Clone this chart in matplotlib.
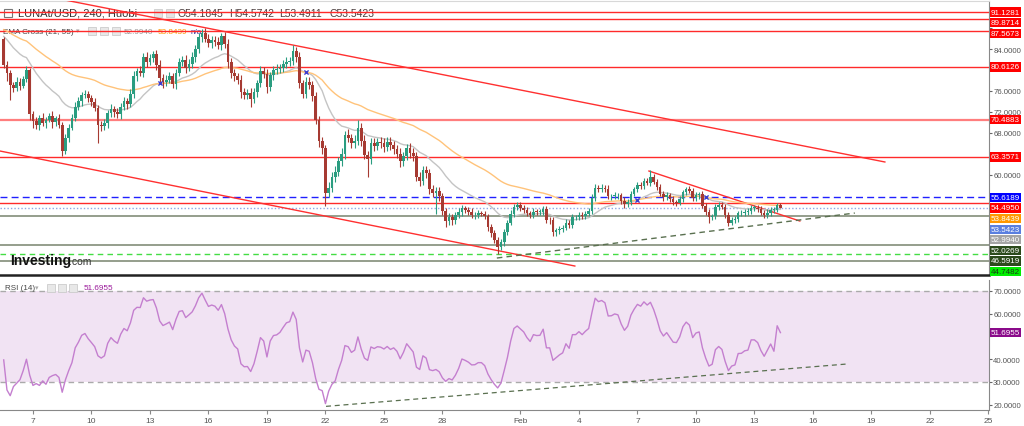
import matplotlib
matplotlib.use("Agg")
import matplotlib.pyplot as plt
import numpy as np

plt.rcParams['font.family'] = ['Liberation Sans', 'DejaVu Sans']

# ---- data (4h candles, LUNA/USD Huobi), day numbers counted from Jan 1 = 1 -------------------
first_day = 5.5                     # first candle: Jan 5, 12:00
open0 = 86.0
closes = [
    81.0, 79.5, 77.2, 76.5, 77.8, 77.0, 78.3, 80.0, 71.5, 70.2,
    69.5, 70.8, 69.8, 70.5, 71.2, 70.0, 70.8, 69.5, 64.5, 67.0,
    69.0, 70.8, 73.0, 74.0, 75.2, 75.5, 74.6, 73.8, 72.8, 69.5,
    69.2, 69.8, 71.8, 72.5, 72.0, 71.5, 73.0, 74.0, 73.5, 75.5,
    78.8, 79.8, 79.5, 82.5, 81.5, 82.3, 83.0, 81.0, 78.5, 77.8,
    78.2, 78.8, 77.3, 79.5, 81.5, 82.0, 80.5, 81.2, 82.5, 84.0,
    86.3, 87.2, 86.0, 85.2, 85.8, 85.4, 84.8, 86.5, 85.0, 81.5,
    79.5, 78.8, 78.2, 75.8, 75.3, 75.6, 74.5, 75.8, 77.5, 79.8,
    79.3, 76.8, 79.0, 80.0, 80.2, 80.5, 81.2, 81.6, 81.8, 83.6,
    82.5, 77.5, 75.5, 77.8, 77.2, 75.0, 70.5, 66.5, 65.0, 56.5,
    57.5, 59.5, 60.5, 62.5, 64.0, 67.5, 67.0, 66.0, 66.5, 69.0,
    66.5, 63.8, 63.0, 66.0, 65.5, 66.2, 66.0, 65.3, 66.3, 65.6,
    64.8, 64.0, 62.5, 63.5, 65.0, 64.2, 63.5, 59.5, 58.8, 60.8,
    60.2, 57.2, 56.5, 56.8, 55.8, 53.0, 51.0, 51.8, 51.2, 52.3,
    52.8, 53.5, 53.2, 52.8, 52.2, 52.3, 52.6, 52.5, 52.0, 50.0,
    48.8, 47.5, 46.2, 47.0, 49.0, 50.8, 52.5, 53.8, 54.2, 53.6,
    53.2, 52.6, 52.2, 52.9, 52.8, 52.8, 53.4, 51.3, 51.2, 49.0,
    49.3, 49.6, 49.8, 50.8, 50.3, 51.8, 51.8, 52.3, 52.0, 52.5,
    53.0, 55.5, 57.5, 57.2, 57.5, 57.3, 55.8, 55.8, 56.0, 56.0,
    55.0, 54.3, 54.8, 56.3, 57.2, 58.0, 57.8, 58.8, 58.4, 59.5,
    58.6, 57.6, 56.3, 55.6, 56.0, 55.3, 54.7, 54.6, 55.3, 56.6,
    57.2, 56.9, 55.5, 56.0, 56.2, 54.0, 52.8, 51.8, 52.0, 53.8,
    54.2, 53.8, 52.2, 50.8, 51.3, 51.4, 52.6, 52.6, 52.9, 53.0,
    53.6, 53.6, 53.4, 52.7, 52.2, 52.7, 53.2, 53.2, 54.1845, 53.5423,
]
wick_up = [
    0.4, 0.8, 0.6, 0.5, 0.9, 0.7, 0.6, 0.8, 0.5, 0.6,
    0.8, 0.6, 0.9, 0.5, 0.6, 0.9, 0.5, 0.7, 0.6, 0.8,
    0.6, 0.7, 0.8, 0.9, 0.6, 0.7, 0.5, 0.6, 0.9, 0.6,
    0.7, 0.9, 0.6, 1.0, 0.6, 0.8, 0.7, 0.9, 0.6, 0.8,
    1.0, 0.7, 0.9, 0.8, 1.0, 0.7, 0.6, 0.8, 0.9, 0.7,
    0.8, 0.9, 0.7, 0.8, 0.9, 0.7, 0.8, 0.9, 1.0, 0.9,
    0.9, 0.6, 0.8, 0.9, 0.7, 0.8, 0.9, 0.7, 0.8, 0.9,
    0.9, 0.8, 0.7, 0.9, 0.8, 0.7, 0.9, 0.8, 0.7, 0.9,
    0.8, 0.9, 0.7, 0.8, 0.9, 0.7, 0.8, 0.9, 0.7, 1.2,
    0.8, 0.9, 0.7, 0.9, 0.8, 0.7, 0.9, 0.8, 0.7, 0.6,
    1.0, 0.9, 1.2, 0.8, 1.0, 0.9, 1.2, 0.8, 1.0, 1.5,
    0.9, 1.0, 0.8, 0.9, 1.0, 0.8, 0.9, 1.0, 0.8, 0.9,
    0.8, 0.9, 1.0, 0.8, 0.9, 1.0, 0.8, 0.9, 1.0, 0.8,
    0.9, 0.8, 0.7, 0.9, 0.8, 0.7, 0.6, 0.8, 0.7, 0.6,
    0.7, 0.6, 0.5, 0.6, 0.7, 0.5, 0.6, 0.5, 0.6, 0.5,
    0.6, 0.5, 0.6, 0.7, 0.6, 0.5, 0.7, 0.6, 0.5, 0.6,
    0.5, 0.6, 0.5, 0.6, 0.5, 0.6, 0.5, 0.6, 0.5, 0.6,
    0.5, 0.6, 0.5, 0.6, 0.5, 0.6, 0.5, 0.6, 0.5, 0.6,
    0.6, 0.8, 0.7, 0.5, 0.6, 0.5, 0.6, 0.5, 0.6, 0.5,
    0.5, 0.6, 0.5, 0.6, 0.5, 0.6, 0.5, 0.6, 0.5, 1.3,
    0.6, 0.5, 0.6, 0.5, 0.6, 0.5, 0.6, 0.5, 0.6, 0.5,
    0.5, 0.6, 0.5, 0.6, 0.5, 0.6, 0.5, 0.6, 0.5, 0.6,
    0.5, 0.6, 0.5, 0.6, 0.5, 0.6, 0.5, 0.6, 0.5, 0.6,
    0.5, 0.6, 0.5, 0.6, 0.5, 0.6, 0.5, 0.6, 0.3, 0.39,
]
wick_dn = [
    0.6, 1.5, 3.0, 0.7, 0.5, 0.9, 0.4, 0.5, 1.0, 1.2,
    0.7, 0.9, 0.6, 0.8, 0.5, 1.0, 0.7, 0.6, 0.9, 0.5,
    0.8, 0.5, 0.6, 0.7, 0.9, 0.6, 0.8, 0.7, 0.6, 3.5,
    0.9, 0.6, 0.8, 0.7, 0.9, 0.6, 0.8, 0.7, 0.9, 0.6,
    0.8, 0.9, 0.7, 0.8, 0.9, 0.6, 0.8, 0.9, 0.7, 1.2,
    0.9, 0.7, 0.8, 0.9, 0.7, 0.8, 1.0, 0.7, 0.8, 0.9,
    0.8, 0.9, 0.7, 0.8, 0.9, 0.7, 0.8, 0.9, 0.7, 1.0,
    1.0, 0.8, 0.9, 1.1, 0.8, 0.9, 1.5, 0.8, 0.9, 0.8,
    0.9, 1.2, 0.8, 0.9, 0.7, 0.8, 0.9, 0.7, 0.8, 0.9,
    0.9, 1.0, 0.8, 0.9, 0.8, 1.0, 0.9, 1.2, 1.0, 2.5,
    0.8, 0.9, 1.0, 0.8, 0.9, 1.0, 0.8, 0.9, 1.0, 0.8,
    1.0, 0.9, 3.5, 0.9, 1.0, 0.8, 0.9, 1.0, 0.8, 0.9,
    0.9, 0.8, 1.0, 0.9, 0.8, 1.0, 0.9, 0.8, 1.0, 0.9,
    0.8, 0.9, 0.8, 4.0, 0.9, 0.8, 1.0, 0.7, 0.8, 0.7,
    0.6, 0.7, 0.5, 0.6, 0.5, 0.7, 0.6, 0.5, 0.6, 0.8,
    0.7, 0.6, 1.45, 0.6, 0.7, 0.6, 0.5, 0.7, 0.6, 0.5,
    0.6, 0.5, 0.6, 0.5, 0.6, 0.5, 0.6, 0.5, 0.6, 0.8,
    0.8, 0.6, 0.7, 0.5, 0.6, 0.5, 0.6, 0.5, 0.6, 0.5,
    0.5, 0.6, 0.5, 0.6, 0.5, 0.6, 0.5, 0.6, 0.5, 0.6,
    0.6, 0.8, 0.5, 0.6, 0.5, 0.6, 0.5, 0.6, 0.5, 0.6,
    0.5, 0.6, 0.5, 0.6, 0.5, 0.6, 0.5, 0.6, 0.5, 0.6,
    0.6, 0.5, 0.6, 0.5, 0.6, 0.5, 0.6, 1.0, 0.5, 0.6,
    0.6, 0.5, 0.6, 0.6, 0.5, 0.6, 0.5, 0.6, 0.5, 0.6,
    0.6, 0.5, 0.6, 0.5, 0.6, 0.5, 0.6, 0.5, 0.4, 0.05,
]
rsi = [
    39.7, 26.5, 24.0, 28.0, 29.5, 31.0, 35.0, 40.0, 33.0, 28.5,
    29.3, 28.5, 30.5, 29.0, 32.0, 32.8, 33.3, 32.0, 25.5, 31.0,
    35.0, 38.5, 45.0, 47.5, 50.5, 51.3, 49.0, 47.3, 45.5, 41.5,
    40.5, 41.5, 47.0, 49.5, 48.0, 47.0, 51.0, 53.5, 52.5, 56.0,
    61.5, 62.8, 62.7, 67.0, 65.5, 66.0, 66.2, 62.5, 56.8, 54.8,
    55.5, 56.3, 53.0, 57.5, 61.0, 61.3, 58.3, 59.5, 60.8, 63.5,
    67.0, 69.0, 66.0, 63.2, 63.8, 63.3, 61.5, 64.0, 60.0, 53.3,
    48.5, 45.8, 44.5, 38.0, 36.7, 36.8, 34.6, 38.0, 43.5, 49.5,
    48.0, 41.0, 48.0, 50.4, 50.7, 51.8, 54.0, 56.0, 56.5, 60.7,
    57.5, 45.0, 38.8, 44.0, 43.5, 38.5, 31.5, 26.8, 26.2, 20.5,
    26.0, 29.0, 30.5, 35.5, 39.5, 46.0, 45.5, 43.0, 44.0, 49.8,
    44.5, 40.5, 39.5, 45.4, 44.7, 45.5, 45.3, 44.5, 45.6, 44.3,
    45.0, 43.5, 40.2, 43.0, 46.8, 45.0, 43.2, 36.5, 35.5, 41.5,
    40.5, 35.4, 35.0, 35.5, 34.5, 31.8, 30.3, 31.5, 30.9, 33.0,
    36.0, 40.1, 39.5, 38.7, 37.5, 37.6, 38.5, 38.5, 37.2, 33.5,
    31.0, 29.0, 27.4, 29.5, 35.0, 40.8, 48.0, 53.5, 54.6, 53.3,
    52.0, 49.5, 47.8, 50.8, 50.4, 50.5, 53.2, 45.0, 45.0, 39.5,
    40.7, 41.9, 42.8, 46.8, 44.8, 50.8, 50.8, 52.1, 50.8, 52.3,
    53.5, 60.5, 66.8, 65.3, 65.8, 64.8, 59.0, 59.1, 59.9, 59.5,
    55.5, 52.7, 54.5, 59.4, 62.0, 64.1, 63.3, 65.2, 63.8, 65.0,
    61.8, 57.5, 52.5, 50.2, 51.7, 49.6, 47.5, 47.3, 49.8, 54.3,
    56.3, 55.0, 49.5, 51.5, 52.0, 45.0, 40.5, 37.0, 37.8, 44.2,
    45.6, 44.3, 39.0, 35.0, 37.0, 37.5, 42.5, 42.6, 43.7, 44.0,
    48.5, 48.5, 47.3, 43.8, 41.3, 44.0, 46.7, 43.5, 54.7, 51.6955,
]
ema21_seed, ema55_seed = 87.0, 88.0

# header readouts
ohlc_text = ["O54.1845", "H54.5742", "L53.4911", "C53.5423"]
ema21_last, ema55_last, last_close, rsi_last = 52.9940, 53.8439, 53.5423, 51.6955

# drawn levels
red_levels = [91.1281, 89.8714, 87.5673, 80.6126, 63.3571, 54.4950]
pink_level = 70.4883
blue_dash_level = 55.6189
gray_levels = [52.0269, 46.5919, 43.45]
green_dash_level = 44.7482

# trend lines: (day, price) end points
upper_channel = [(8.38, 93.62), (50.69, 62.4)]
lower_channel = [(5.31, 64.50), (34.79, 42.47)]
short_down = [(38.59, 60.67), (46.33, 51.09)]
rising_support = [(30.79, 44.0), (49.15, 52.62)]
rsi_support = [(22.03, 19.3), (48.74, 37.9)]

tick_days = [7, 10, 13, 16, 19, 22, 25, 28, 32, 35, 38, 41, 44, 47, 50, 53, 56]
tick_labels = ['7', '10', '13', '16', '19', '22', '25', '28', 'Feb',
               '4', '7', '10', '13', '16', '19', '22', '25']
price_ticks = [44, 48, 52, 56, 60, 64, 68, 72, 76, 80, 84, 88, 92]
rsi_ticks = [20, 30, 40, 50, 60, 70]

# ---- derived -----------------------------------------------------------------------------------
n = len(closes)
days = first_day + np.arange(n) / 6.0
c = np.array(closes)
o = np.r_[open0, c[:-1]]
hi = np.maximum(o, c) + np.array(wick_up)
lo = np.minimum(o, c) - np.array(wick_dn)


def ema(vals, span, seed):
    a = 2.0 / (span + 1)
    out, e = [], seed
    for v in vals:
        e = e + a * (v - e)
        out.append(e)
    return np.array(out)


e21 = ema(c, 21, ema21_seed)
e55 = ema(c, 55, ema55_seed)

UP, DN = '#2a9d80', '#a63a32'
XMIN, XMAX = 5.31, 56.03
YMIN, YMAX = 40.75, 93.24
RMIN, RMAX = 17.7, 74.8

W, H = 1024, 427
fig = plt.figure(figsize=(W / 100, H / 100), dpi=100)
ax = fig.add_axes([0, 1 - 276 / H, 989 / W, 274 / H])
ar = fig.add_axes([0, 1 - 411 / H, 989 / W, 130 / H])


def fx(px):
    return px / W


def fy(py):
    return 1 - py / H


# ---- main price panel ----------------------------------------------------------------------------
for lv in red_levels:
    ax.axhline(lv, color='#ff2a2a', lw=1.0, zorder=2)
ax.axhline(pink_level, color='#ff7070', lw=1.6, alpha=0.9, zorder=2)
ax.axhline(blue_dash_level, color='#2020ff', lw=1.0, ls=(0, (5, 3)), zorder=2)
ax.axhline(last_close, color='#8fa6e6', lw=1.0, ls=(0, (1, 1.5)), zorder=2)
for lv in gray_levels:
    ax.axhline(lv, color='#8c9683', lw=1.3, zorder=2)
ax.axhline(green_dash_level, color='#44dd44', lw=1.0, ls=(0, (4, 3)), zorder=2)

for (x0, y0), (x1, y1) in [upper_channel, lower_channel, short_down]:
    ax.plot([x0, x1], [y0, y1], color='#ff3030', lw=1.0, zorder=3)
(x0, y0), (x1, y1) = rising_support
ax.plot([x0, x1], [y0, y1], color='#5a7050', lw=1.0, ls=(0, (4, 3)), zorder=3)

ax.plot(days, e21, color='#c4c4c4', lw=1.0, zorder=4)
ax.plot(days, e55, color='#ffc37a', lw=1.0, zorder=4)
# cross markers where the two EMAs swap order and stay swapped for two days
sgn = np.sign(e21 - e55)
cross = [k for k in range(1, n - 12)
         if sgn[k] != sgn[k - 1] and np.all(sgn[k:k + 12] == sgn[k])]
cross = np.array(cross, dtype=int)
ax.scatter(days[cross], e21[cross], marker='x', s=9, color='#3c3ccc', lw=1.0, zorder=6)

up = c >= o
colors = np.where(up, UP, DN)
ax.vlines(days, lo, hi, colors=colors, lw=0.8, zorder=5)
body_h = np.maximum(np.abs(c - o), 0.12)
ax.bar(days, body_h, bottom=np.minimum(o, c), width=0.135, color=colors, lw=0, zorder=5)

ax.set_xlim(XMIN, XMAX)
ax.set_ylim(YMIN, YMAX)
ax.set_xticks([])
ax.spines['left'].set_visible(False)
ax.spines['top'].set_color('#d8d8d8')
ax.spines['right'].set_color('#888888')
ax.spines['bottom'].set_color('#222222')
ax.spines['bottom'].set_linewidth(1.8)

# stacked price badges on the right axis
badge_vals = [91.1281, 89.8714, 87.5673, 80.6126, 70.4883, 63.3571, 55.6189, 54.4950,
              ema55_last, last_close, ema21_last, 52.0269, 46.5919, 44.7482]
badge_bg = ['#ff0000'] * 6 + ['#0000ff', '#ff0000', '#ff9800', '#5a7fe0', '#a5a5a5',
                              '#2c4a1c', '#2c4a1c', '#00ee00']
badge_fg = ['white'] * 13 + ['#1a3a1a']
step = 10.6 / 274
placed = []
for v, bg, fg in zip(badge_vals, badge_bg, badge_fg):
    f = (v - YMIN) / (YMAX - YMIN)
    if placed:
        f = min(f, placed[-1] - step)
    placed.append(f)
    ax.text(1.0018, f, f'{v:.4f}', transform=ax.transAxes, ha='left', va='center',
            fontsize=5.8, color=fg, zorder=10, clip_on=False,
            bbox=dict(boxstyle='square,pad=0.14', fc=bg, ec='none'))

# right axis ticks; labels sitting under a badge are hidden, as in the source
ax.yaxis.tick_right()
ax.set_yticks(price_ticks)
tick_txt = []
for t in price_ticks:
    tf = (t - YMIN) / (YMAX - YMIN)
    covered = any(abs(tf - pf) < step * 0.7 for pf in placed)
    tick_txt.append('' if covered else f'{t:.4f}')
ax.set_yticklabels(tick_txt)
ax.tick_params(axis='y', labelsize=5.6, colors='#666666', length=2, pad=1, labelcolor='#555555')

# header texts (drawn under the level lines)
ax.add_patch(plt.Rectangle((fx(4), fy(18)), 8 / W, 8 / H, transform=fig.transFigure,
                           fill=False, ec='#777777', lw=0.8, zorder=1))
ax.text(fx(18), fy(14), 'LUNAt/USD, 240, Huobi', transform=fig.transFigure,
        fontsize=8, color='#333333', va='center', ha='left', zorder=1)
for px in (154, 166):
    ax.add_patch(plt.Rectangle((fx(px), fy(18)), 8 / W, 8 / H, transform=fig.transFigure,
                               fc='#e4e4e4', ec='#cccccc', lw=0.6, zorder=1))
ohlc_x = [178, 229, 279, 329]
for px, s in zip(ohlc_x, ohlc_text):
    ax.text(fx(px), fy(14), s, transform=fig.transFigure, fontsize=7.5, color='#4a3c3c',
            va='center', ha='left', zorder=1)

ax.text(fx(3), fy(32), 'EMA Cross (21, 55)', transform=fig.transFigure, fontsize=5.9,
        color='#444444', va='center', ha='left', zorder=1)
ax.text(fx(76), fy(32), '\u25be', transform=fig.transFigure, fontsize=5,
        color='#aaaaaa', va='center', ha='left', zorder=1)
for px in (88, 100, 112):
    ax.add_patch(plt.Rectangle((fx(px), fy(36)), 8 / W, 8 / H, transform=fig.transFigure,
                               fc='#e8e8e8', ec='#cccccc', lw=0.6, zorder=1))
ax.text(fx(124), fy(32), f'{ema21_last:.4f}', transform=fig.transFigure, fontsize=5.9,
        color='#999999', va='center', ha='left', zorder=1)
ax.text(fx(158), fy(32), f'{ema55_last:.4f}', transform=fig.transFigure, fontsize=5.9,
        color='#ff9800', va='center', ha='left', zorder=1)
ax.text(fx(191), fy(32), 'n/a', transform=fig.transFigure, fontsize=5.9,
        color='#3030a0', va='center', ha='left', zorder=1)

ax.text(fx(10), fy(261), 'Investing', transform=fig.transFigure, fontsize=10,
        fontweight='bold', color='#111111', va='center', ha='left', zorder=7)
ax.text(fx(69), fy(262), '.com', transform=fig.transFigure, fontsize=7.5,
        color='#333333', va='center', ha='left', zorder=7)

# ---- RSI panel ---------------------------------------------------------------------------------
ar.axhspan(30, 70, color='#f1e3f3', lw=0, zorder=0)
ar.axhline(70, color='#aaaaaa', lw=1.0, ls=(0, (4, 3)), zorder=1)
ar.axhline(30, color='#aaaaaa', lw=1.0, ls=(0, (4, 3)), zorder=1)
ar.plot(days, rsi, color='#c47fcf', lw=1.0, zorder=3)
(x0, y0), (x1, y1) = rsi_support
ar.plot([x0, x1], [y0, y1], color='#5a7050', lw=0.9, ls=(0, (4, 3)), zorder=2)

ar.set_xlim(XMIN, XMAX)
ar.set_ylim(RMIN, RMAX)
rsi_f = (rsi_last - RMIN) / (RMAX - RMIN)
ar.yaxis.tick_right()
ar.set_yticks(rsi_ticks)
ar.set_yticklabels(['' if abs((t - RMIN) / (RMAX - RMIN) - rsi_f) < 0.08 else f'{t:.4f}'
                    for t in rsi_ticks])
ar.set_xticks(tick_days)
ar.set_xticklabels(tick_labels)
ar.tick_params(axis='y', labelsize=5.6, colors='#666666', length=2, pad=1, labelcolor='#555555')
ar.tick_params(axis='x', labelsize=6, colors='#888888', length=3, pad=2, labelcolor='#555555')
ar.spines['left'].set_visible(False)
ar.spines['top'].set_visible(False)
ar.spines['right'].set_color('#888888')
ar.spines['bottom'].set_color('#888888')

ar.text(1.0018, rsi_f, f'{rsi_last:.4f}', transform=ar.transAxes, ha='left', va='center',
        fontsize=5.8, color='white', zorder=10, clip_on=False,
        bbox=dict(boxstyle='square,pad=0.14', fc='#8a0a8a', ec='none'))

ar.text(fx(5), fy(289), 'RSI (14)', transform=fig.transFigure, fontsize=5.8,
        color='#444444', va='center', ha='left', zorder=4)
ar.text(fx(35), fy(289), '\u25be', transform=fig.transFigure, fontsize=5,
        color='#aaaaaa', va='center', ha='left', zorder=4)
for px in (47, 58, 69):
    ar.add_patch(plt.Rectangle((fx(px), fy(293)), 8 / W, 8 / H, transform=fig.transFigure,
                               fc='#e8e8e8', ec='#cccccc', lw=0.6, zorder=4))
ar.text(fx(84), fy(289), f'{rsi_last:.4f}', transform=fig.transFigure, fontsize=5.9,
        color='#9a1a9a', va='center', ha='left', zorder=4)

fig.savefig('out.png', dpi=100)
